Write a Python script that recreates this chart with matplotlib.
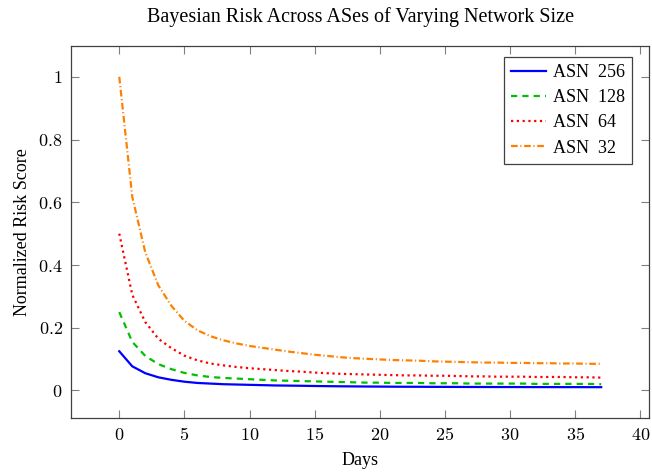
import numpy as np
import matplotlib.pyplot as plt
from matplotlib.ticker import FixedLocator

plt.rcParams['font.family'] = ['Liberation Serif', 'DejaVu Serif']
plt.rcParams['mathtext.fontset'] = 'cm'

#### Data (one value per day)
days = list(range(38))
asn_256 = [0.125, 0.077, 0.055, 0.042, 0.034, 0.028, 0.024, 0.022, 0.020, 0.019,
           0.018, 0.017, 0.016, 0.0155, 0.015, 0.0143, 0.0138, 0.0133, 0.013, 0.0126,
           0.0124, 0.0121, 0.0119, 0.0118, 0.0116, 0.0115, 0.0113, 0.0112, 0.0111, 0.011,
           0.011, 0.0109, 0.0108, 0.0108, 0.0107, 0.0107, 0.0106, 0.0106]
asn_128 = [0.250, 0.155, 0.110, 0.084, 0.068, 0.056, 0.048, 0.043, 0.040, 0.038,
           0.036, 0.034, 0.032, 0.031, 0.030, 0.029, 0.028, 0.027, 0.026, 0.025,
           0.025, 0.024, 0.024, 0.024, 0.023, 0.023, 0.023, 0.022, 0.022, 0.022,
           0.022, 0.022, 0.021, 0.021, 0.021, 0.021, 0.021, 0.020]
asn_64 = [0.500, 0.305, 0.218, 0.165, 0.135, 0.111, 0.096, 0.086, 0.080, 0.075,
          0.071, 0.068, 0.065, 0.062, 0.060, 0.057, 0.055, 0.053, 0.052, 0.051,
          0.050, 0.049, 0.048, 0.048, 0.047, 0.047, 0.046, 0.045, 0.045, 0.044,
          0.044, 0.044, 0.043, 0.043, 0.043, 0.042, 0.042, 0.041]
asn_32 = [1.000, 0.617, 0.440, 0.335, 0.270, 0.222, 0.192, 0.173, 0.160, 0.150,
          0.142, 0.136, 0.130, 0.124, 0.119, 0.114, 0.110, 0.106, 0.103, 0.101,
          0.099, 0.097, 0.096, 0.095, 0.093, 0.092, 0.091, 0.090, 0.089, 0.089,
          0.088, 0.088, 0.087, 0.087, 0.086, 0.086, 0.085, 0.085]

x_ticks = [0, 5, 10, 15, 20, 25, 30, 35, 40]
y_ticks = [0, 0.2, 0.4, 0.6, 0.8, 1]

fig = plt.figure(figsize=(6.52, 4.72), dpi=100)
ax = fig.add_axes([0.109, 0.114, 0.887, 0.789])

ax.plot(days, asn_256, color='#0000ff', lw=1.6, ls='-', label='ASN  256')
ax.plot(days, asn_128, color='#00c000', lw=1.6, ls=(0, (2.8, 2.3)), label='ASN  128')
ax.plot(days, asn_64, color='#ff0000', lw=1.6, ls=(0, (1, 1.6)), label='ASN  64')
ax.plot(days, asn_32, color='#ff8000', lw=1.6, ls=(0, (3, 1.2, 0.5, 1.2)), label='ASN  32')

# pgfplots style: 10% enlarged limits
ax.margins(x=0.1, y=0.1)

ax.xaxis.set_major_locator(FixedLocator(x_ticks))
ax.yaxis.set_major_locator(FixedLocator(y_ticks))
ax.set_xticklabels(['$%g$' % t for t in x_ticks])
ax.set_yticklabels(['$%g$' % t for t in y_ticks])
ax.tick_params(direction='in', length=6, width=0.8, color='#808080',
               top=True, right=True, labelsize=13, pad=6)
for s in ax.spines.values():
    s.set_color('#404040')
    s.set_linewidth(0.9)

ax.set_title('Bayesian Risk Across ASes of Varying Network Size', fontsize=14.5, pad=17)
ax.set_xlabel('Days', fontsize=13, labelpad=6)
ax.set_ylabel('Normalized Risk Score', fontsize=13, labelpad=5)

leg = ax.legend(loc='upper right', bbox_to_anchor=(0.97, 0.97), borderaxespad=0,
                fontsize=13, fancybox=False, framealpha=1, edgecolor='#404040',
                handlelength=1.9, labelspacing=0.45, handletextpad=0.4, borderpad=0.4)
leg.get_frame().set_linewidth(0.9)

fig.savefig('out.png', dpi=100)
